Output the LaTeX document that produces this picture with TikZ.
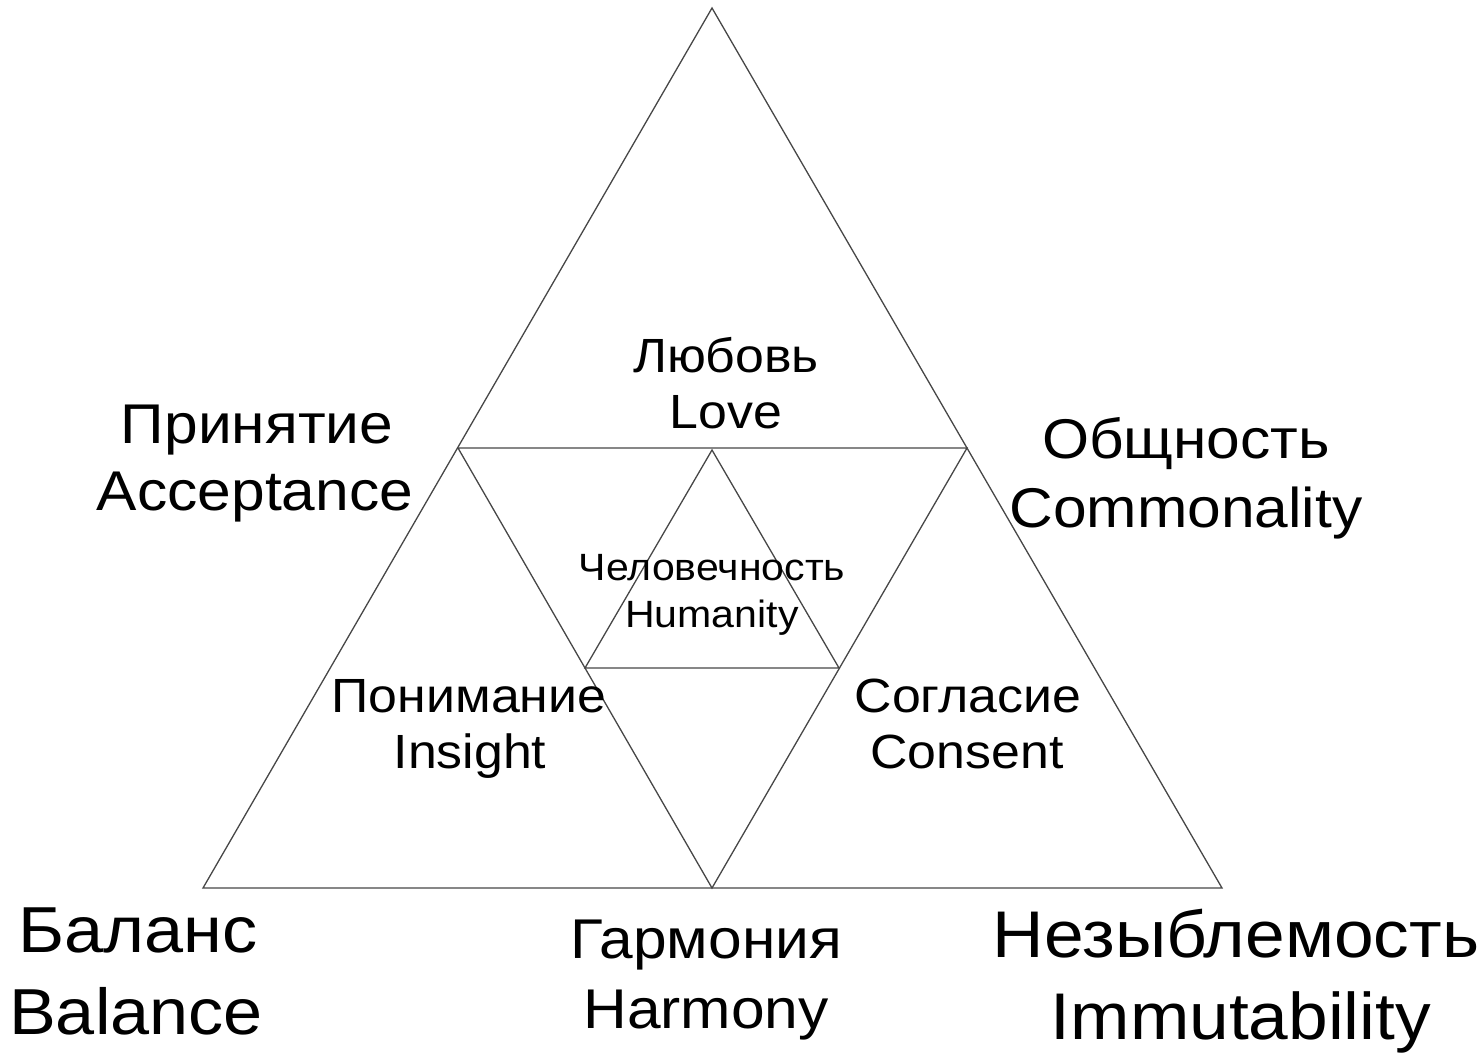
\documentclass[tikz,border=0pt]{standalone}
\usepackage{fontspec}
\setmainfont{Liberation Sans}[FakeStretch=1.08]
\begin{document}
\begin{tikzpicture}[x=0.5pt,y=-0.5pt,
  edge/.style={draw=black!72, line width=0.65pt, line join=miter},
  lbl/.style={anchor=base, inner sep=0pt, text=black},
  fxl/.style={lbl, font=\fontsize{32.5}{38}\selectfont},
  fxxl/.style={lbl, font=\fontsize{33}{38}\selectfont},
  fl/.style={lbl, font=\fontsize{28}{34}\selectfont},
  fm/.style={lbl, font=\fontsize{24}{29}\selectfont},
  fs/.style={lbl, font=\fontsize{19}{23}\selectfont}]
\useasboundingbox (0,0) rectangle (1478,1057);
% outer triangle
\coordinate (A) at (712,8);
\coordinate (BL) at (203,888);
\coordinate (BR) at (1222,888);
% midpoints
\coordinate (L) at (458,448);
\coordinate (R) at (967,448);
\coordinate (B) at (712,888);
% inner triangle
\coordinate (T) at (712,450);
\coordinate (IL) at (585,668);
\coordinate (IR) at (839,668);
\draw[edge] (A) -- (BL) -- (BR) -- cycle;
\draw[edge] (L) -- (R) -- (B) -- cycle;
\draw[edge] (T) -- (IL) -- (IR) -- cycle;
% labels
\node[fm] (love1) at (726,372) {Любовь};
\node[fm] (love2) at (726,428) {Love};
\node[fl] (acc1) at (257,443) {Принятие};
\node[fl] (acc2) at (255,510) {Acceptance};
\node[fl] (com1) at (1186,458) {Общность};
\node[fl] (com2) at (1186,527) {Commonality};
\node[fs] (hum1) at (712,580) {Человечность};
\node[fs] (hum2) at (712,627) {Humanity};
\node[fm] (ins1) at (469,712) {Понимание};
\node[fm] (ins2) at (470,768) {Insight};
\node[fm] (con1) at (968,712) {Согласие};
\node[fm] (con2) at (967,768) {Consent};
\node[fxl] (bal1) at (138,952) {Баланс};
\node[fxl] (bal2) at (136,1034) {Balance};
\node[fl] (har1) at (706,958) {Гармония};
\node[fl] (har2) at (706,1028) {Harmony};
\node[fxxl] (imm1) at (1236,957) {Незыблемость};
\node[fxxl] (imm2) at (1241,1039) {Immutability};
\end{tikzpicture}
\end{document}
